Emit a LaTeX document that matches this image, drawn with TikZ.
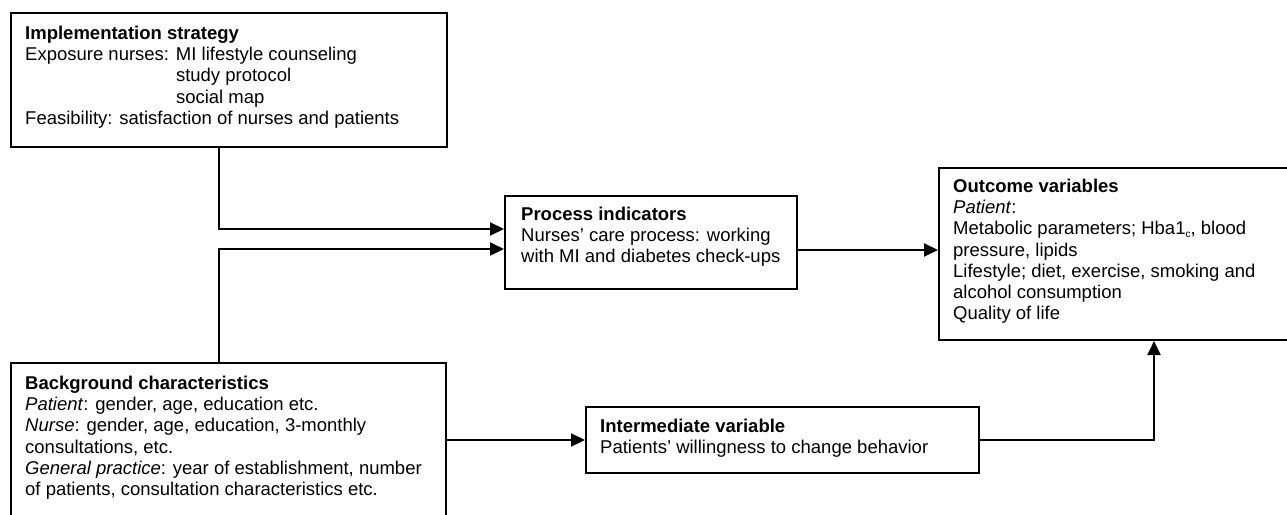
\documentclass[tikz,border=0pt]{standalone}
\usepackage{fontspec}
\setmainfont{Liberation Sans}
\usetikzlibrary{arrows.meta}
\begin{document}
\begin{tikzpicture}[x=1pt,y=-1pt,
  box/.style={draw=black, line width=2pt, fill=none, inner sep=0pt, anchor=north west},
  txt/.style={anchor=north west, inner sep=0pt, align=left, font=\fontsize{18.5}{21.3}\selectfont},
  arr/.style={line width=2pt, -{Triangle[length=14pt,width=13pt]}}]
\useasboundingbox (0,0) rectangle (1287,514);
% boxes
\node[box, minimum width=436pt, minimum height=134pt] (impl) at (10,12) {};
\node[box, minimum width=435pt, minimum height=160pt] (bg) at (10,362) {};
\node[box, minimum width=292pt, minimum height=93pt] (proc) at (504,195) {};
\node[box, minimum width=360pt, minimum height=172pt] (outbox) at (938,167) {};
\node[box, minimum width=393pt, minimum height=66pt] (inter) at (585,406) {};
% texts
\node[txt] (implt) at (25,25.5) {\textbf{Implementation strategy}\\
Exposure nurses: MI lifestyle counseling\\
\hphantom{Exposure nurses: }study protocol\\
\hphantom{Exposure nurses: }social map\\
Feasibility: satisfaction of nurses and patients};
\node[txt] (bgt) at (25,375.5) {\textbf{Background characteristics}\\
\textit{Patient}: gender, age, education etc.\\
\textit{Nurse}: gender, age, education, 3-monthly\\
consultations, etc.\\
\textit{General practice}: year of establishment, number\\
of patients, consultation characteristics etc.};
\node[txt] (proct) at (521,206.5) {\textbf{Process indicators}\\
Nurses’ care process: working\\
with MI and diabetes check-ups};
\node[txt] (outt) at (953,178.5) {\textbf{Outcome variables}\\
\textit{Patient}:\\
Metabolic parameters; Hba1{\fontsize{10}{10}\selectfont\raisebox{-3pt}{c}}, blood\\
pressure, lipids\\
Lifestyle; diet, exercise, smoking and\\
alcohol consumption\\
Quality of life};
\node[txt] (intert) at (600,418.5) {\textbf{Intermediate variable}\\
Patients’ willingness to change behavior};
% connectors
\draw[arr] ([xshift=209pt]impl.south west) |- ([yshift=13.5pt]proc.west);
\draw[arr] ([xshift=209pt]bg.north west) |- ([yshift=-6.5pt]proc.west);
\draw[arr] ([yshift=-7.5pt]proc.east) -- ([yshift=-7.5pt]proc.east -| outbox.west);
\draw[arr] (inter.west -| bg.east) -- (inter.west);
\draw[arr] (inter.east) -| ([xshift=216pt]outbox.south west);
\end{tikzpicture}
\end{document}
